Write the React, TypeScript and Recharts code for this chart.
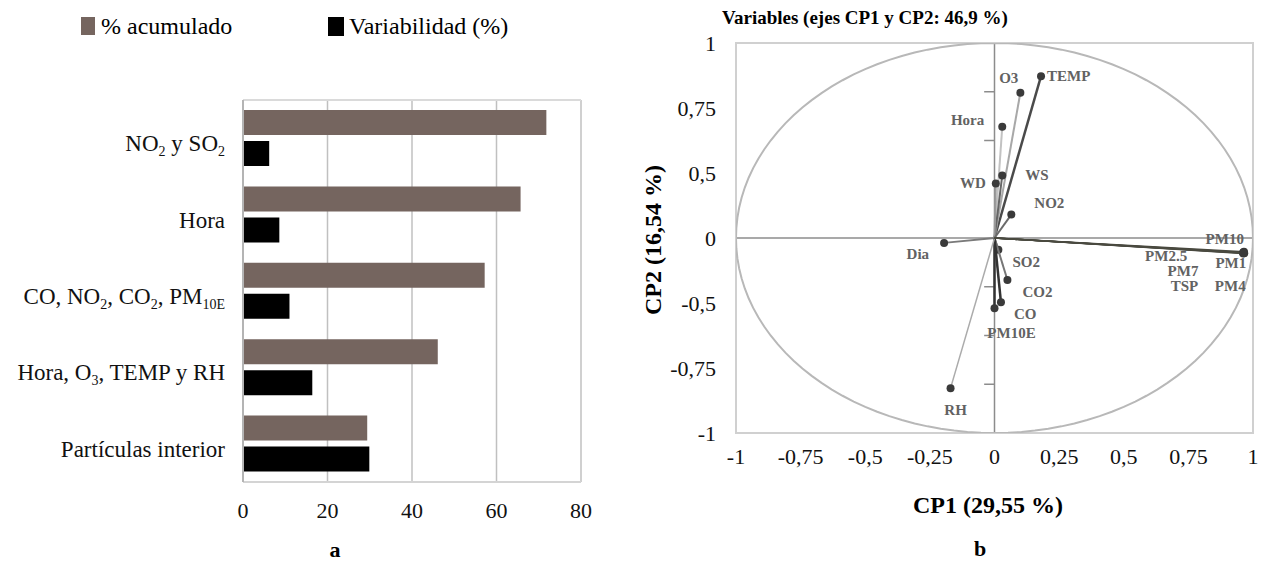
import React from "react";
import {
  BarChart,
  Bar,
  XAxis,
  YAxis,
  CartesianGrid,
  ScatterChart,
  Scatter,
  ReferenceLine,
  ReferenceArea,
} from "recharts";

// panel a: factores (texto con _ = subíndice)
const categories = [
  "NO_2 y SO_2",
  "Hora",
  "CO, NO_2, CO_2, PM_10E",
  "Hora, O_3, TEMP y RH",
  "Partículas interior",
];
const acumulado = [71.8, 65.7, 57.2, 46.1, 29.4];
const variabilidad = [6.2, 8.6, 11.0, 16.4, 29.9];
const barTicks = [0, 20, 40, 60, 80];

// panel b: cargas de las variables en CP1 / CP2
const varNames = ["TEMP", "O3", "Hora", "WS", "WD", "NO2", "Dia", "SO2", "CO2", "CO", "PM10E", "RH", "PM10", "PM1", "PM2.5", "PM7", "TSP", "PM4"];
const cp1 = [0.18, 0.1, 0.03, 0.03, 0.005, 0.065, -0.195, 0.015, 0.05, 0.025, 0.0, -0.17, 0.965, 0.966, 0.962, 0.963, 0.962, 0.964];
const cp2 = [0.83, 0.745, 0.57, 0.32, 0.28, 0.12, -0.025, -0.06, -0.215, -0.33, -0.36, -0.77, -0.07, -0.078, -0.074, -0.076, -0.079, -0.077];
const cp1Ticks = [-1, -0.75, -0.5, -0.25, 0, 0.25, 0.5, 0.75, 1];
const cp2TickValues = [1, 0.667, 0.333, 0, -0.333, -0.667, -1];
const cp2TickLabels = ["1", "0,75", "0,5", "0", "-0,5", "-0,75", "-1"];
const innerTicks = [0.75, 0.5, -0.25, -0.5, -0.75];

const serif = "'Liberation Serif', 'Times New Roman', serif";
const GRAY = "#75655f";

const barData = categories.map((name, i) => ({
  name,
  acumulado: acumulado[i],
  variabilidad: variabilidad[i],
}));

const vectorStyle: Record<string, { stroke: string; w: number }> = {
  TEMP: { stroke: "#4a4a4a", w: 2.5 },
  O3: { stroke: "#a8a8a8", w: 2 },
  Hora: { stroke: "#c2c2c2", w: 2 },
  WS: { stroke: "#666", w: 2 },
  WD: { stroke: "#9a9a9a", w: 2 },
  NO2: { stroke: "#6a6a6a", w: 2 },
  Dia: { stroke: "#7a7a7a", w: 2 },
  SO2: { stroke: "#555", w: 2 },
  CO2: { stroke: "#777", w: 2 },
  CO: { stroke: "#333", w: 2.5 },
  PM10E: { stroke: "#333", w: 2.5 },
  RH: { stroke: "#ababab", w: 1.5 },
};

const labelPos: Record<string, { dx: number; dy: number; anchor: "start" | "end" | "middle" }> = {
  TEMP: { dx: 6, dy: 0, anchor: "start" },
  O3: { dx: -2, dy: -15, anchor: "end" },
  Hora: { dx: -18, dy: -7, anchor: "end" },
  WS: { dx: 23, dy: -1, anchor: "start" },
  WD: { dx: -10, dy: 0, anchor: "end" },
  NO2: { dx: 23, dy: -12, anchor: "start" },
  Dia: { dx: -15, dy: 11, anchor: "end" },
  SO2: { dx: 14, dy: 12, anchor: "start" },
  CO2: { dx: 15, dy: 12, anchor: "start" },
  CO: { dx: 13, dy: 12, anchor: "start" },
  PM10E: { dx: 17, dy: 25, anchor: "middle" },
  RH: { dx: 5, dy: 22, anchor: "middle" },
  PM10: { dx: 0, dy: -13, anchor: "end" },
  PM1: { dx: 2, dy: 10, anchor: "end" },
  "PM2.5": { dx: -56, dy: 4, anchor: "end" },
  PM7: { dx: -45, dy: 18, anchor: "end" },
  TSP: { dx: -45, dy: 33, anchor: "end" },
  PM4: { dx: 2, dy: 33, anchor: "end" },
};

// círculo de correlaciones (radio 1)
const circlePts = Array.from({ length: 121 }, (_, i) => {
  const a = (i / 120) * Math.PI * 2;
  return { x: Math.cos(a), y: Math.sin(a) };
});

const fmtComma = (v: number) => String(v).replace(".", ",");

const CatTick = (props: any) => {
  const { x, y, payload } = props;
  const parts = String(payload.value).split(/_([0-9A-Z]+)/);
  return (
    <text x={x - 10} y={y + 13} textAnchor="end" fontFamily={serif} fontSize={23} fill="#111">
      {parts.map((p, i) =>
        i % 2 === 1 ? (
          <tspan key={i} fontSize={14} dy={5}>
            {p}
          </tspan>
        ) : (
          <tspan key={i} dy={i === 0 ? 0 : -5}>
            {p}
          </tspan>
        )
      )}
    </text>
  );
};

const VecEnd = (props: any) => {
  const { cx, cy, payload } = props;
  if (!payload || !payload.name) return <g />;
  const lp = labelPos[payload.name] || { dx: 6, dy: 0, anchor: "start" };
  return (
    <g>
      <circle cx={cx} cy={cy} r={4} fill="#3a3a3a" />
      <text
        x={cx + lp.dx}
        y={cy + lp.dy}
        textAnchor={lp.anchor}
        dominantBaseline="central"
        fontFamily={serif}
        fontSize={15}
        fontWeight="bold"
        fill="#626262"
      >
        {payload.name}
      </text>
    </g>
  );
};

const txt = (extra: React.CSSProperties): React.CSSProperties => ({
  position: "absolute",
  fontFamily: serif,
  color: "#000",
  whiteSpace: "nowrap",
  lineHeight: 1,
  ...extra,
});

export default function App() {
  const tickStyle = { fontSize: 22, fill: "#111", fontFamily: serif };
  return (
    <div style={{ position: "absolute", left: 0, top: 0, width: 1274, height: 563, background: "#fff", overflow: "hidden" }}>
      {/* leyenda panel a */}
      <div style={{ position: "absolute", left: 81, top: 17, width: 14, height: 18, background: GRAY }} />
      <div style={txt({ left: 101, top: 14, fontSize: 24 })}>% acumulado</div>
      <div style={{ position: "absolute", left: 328, top: 17, width: 16, height: 19, background: "#000" }} />
      <div style={txt({ left: 349, top: 14, fontSize: 24 })}>Variabilidad (%)</div>

      <div style={{ position: "absolute", left: 0, top: 0 }}>
        <BarChart
          layout="vertical"
          width={640}
          height={563}
          data={barData}
          margin={{ top: 99, right: 59, bottom: 31, left: 0 }}
          barGap={6}
        >
          <CartesianGrid horizontal={false} stroke="#c0c0c0" strokeWidth={1.5} />
          <XAxis
            type="number"
            domain={[0, 80]}
            ticks={barTicks}
            axisLine={{ stroke: "#d4d4d4", strokeWidth: 2 }}
            tickLine={false}
            tickMargin={14}
            height={50}
            tick={tickStyle}
          />
          <XAxis
            xAxisId="top"
            orientation="top"
            type="number"
            domain={[0, 80]}
            ticks={barTicks}
            tick={false}
            tickLine={false}
            axisLine={{ stroke: "#dadada", strokeWidth: 2 }}
            height={1}
          />
          <YAxis
            type="category"
            dataKey="name"
            width={243}
            axisLine={{ stroke: "#b4b4b4", strokeWidth: 2 }}
            tickLine={false}
            tick={<CatTick />}
          />
          <Bar dataKey="acumulado" fill={GRAY} barSize={25} isAnimationActive={false} />
          <Bar dataKey="variabilidad" fill="#000" barSize={25} isAnimationActive={false} />
        </BarChart>
      </div>
      <div style={txt({ left: 335, top: 550, fontSize: 22, fontWeight: "bold", transform: "translate(-50%,-50%)" })}>a</div>

      {/* panel b */}
      <div style={txt({ left: 722, top: 8, fontSize: 19, fontWeight: "bold" })}>Variables (ejes CP1 y CP2: 46,9 %)</div>
      <div style={{ position: "absolute", left: 640, top: 0 }}>
        <ScatterChart width={634} height={563} margin={{ top: 43, right: 21, bottom: 100, left: 0 }}>
          <XAxis
            type="number"
            dataKey="x"
            domain={[-1, 1]}
            ticks={cp1Ticks}
            tickFormatter={fmtComma}
            axisLine={false}
            tickLine={false}
            tickMargin={9}
            height={30}
            tick={tickStyle}
            allowDataOverflow
          />
          <YAxis
            type="number"
            dataKey="y"
            domain={[-1, 1]}
            ticks={cp2TickValues}
            tickFormatter={(v: number) => cp2TickLabels[cp2TickValues.indexOf(v)] ?? ""}
            width={96}
            axisLine={false}
            tickLine={false}
            tickMargin={14}
            tick={tickStyle}
            allowDataOverflow
          />
          <ReferenceArea x1={-1} x2={1} y1={-1} y2={1} fill="none" fillOpacity={0} stroke="#d0d0d0" strokeWidth={2} />
          <ReferenceLine x={0} stroke="#8c8c8c" strokeWidth={1.5} />
          <ReferenceLine y={0} stroke="#8c8c8c" strokeWidth={1.5} />
          {innerTicks.map((v) => (
            <ReferenceLine
              key={v}
              segment={[
                { x: -0.04, y: v },
                { x: 0, y: v },
              ]}
              stroke="#8c8c8c"
              strokeWidth={1.5}
            />
          ))}
          <Scatter
            data={circlePts}
            line={{ stroke: "#b8b8b8", strokeWidth: 2 }}
            shape={() => <g />}
            isAnimationActive={false}
          />
          {varNames.map((name, i) => {
            const st = vectorStyle[name] || { stroke: "#4a4a40", w: 1.5 };
            return (
              <Scatter
                key={name}
                data={[
                  { x: 0, y: 0 },
                  { x: cp1[i], y: cp2[i], name },
                ]}
                line={{ stroke: st.stroke, strokeWidth: st.w }}
                shape={<VecEnd />}
                isAnimationActive={false}
              />
            );
          })}
        </ScatterChart>
      </div>
      <div style={txt({ left: 653, top: 240, fontSize: 24, fontWeight: "bold", transform: "translate(-50%,-50%) rotate(-90deg)" })}>
        CP2 (16,54 %)
      </div>
      <div style={txt({ left: 988, top: 505, fontSize: 24, fontWeight: "bold", transform: "translate(-50%,-50%)" })}>
        CP1 (29,55 %)
      </div>
      <div style={txt({ left: 980, top: 549, fontSize: 22, fontWeight: "bold", transform: "translate(-50%,-50%)" })}>b</div>
    </div>
  );
}
